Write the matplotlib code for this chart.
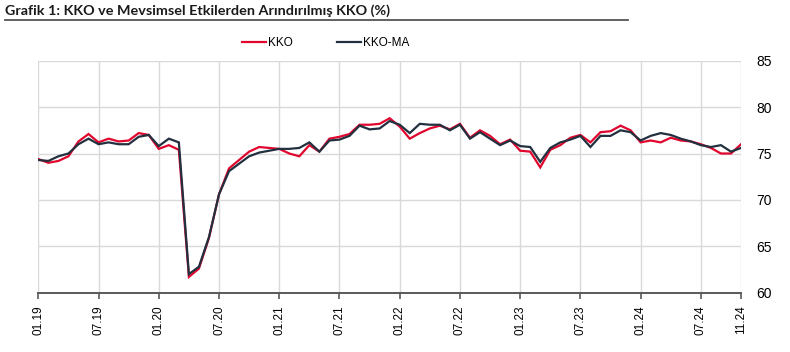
import matplotlib
matplotlib.use("Agg")
import matplotlib.pyplot as plt
from matplotlib.lines import Line2D

# ---- data (monthly, 01.2019 - 11.2024) ----
kko = [74.4, 74.0, 74.2, 74.7, 76.3, 77.1, 76.2, 76.6, 76.3, 76.4, 77.2, 77.0,
       75.5, 75.9, 75.4, 61.7, 62.6, 65.9, 70.6, 73.4, 74.3, 75.2, 75.7, 75.6,
       75.5, 75.0, 74.7, 75.9, 75.2, 76.6, 76.8, 77.1, 78.1, 78.1, 78.2, 78.8,
       77.9, 76.6, 77.2, 77.7, 78.0, 77.6, 78.2, 76.7, 77.5, 76.9, 76.0, 76.5,
       75.3, 75.2, 73.5, 75.4, 75.9, 76.7, 77.0, 76.2, 77.3, 77.4, 78.0, 77.5,
       76.2, 76.4, 76.2, 76.7, 76.4, 76.3, 76.0, 75.6, 75.0, 75.0, 76.0]
kko_ma = [74.3, 74.2, 74.7, 75.0, 76.0, 76.6, 76.0, 76.2, 76.0, 76.0, 76.8, 77.0,
          75.8, 76.6, 76.2, 62.0, 62.8, 66.0, 70.6, 73.1, 73.9, 74.7, 75.1, 75.3,
          75.5, 75.5, 75.6, 76.2, 75.2, 76.4, 76.5, 76.9, 78.0, 77.6, 77.7, 78.5,
          78.1, 77.2, 78.2, 78.1, 78.1, 77.5, 78.1, 76.6, 77.3, 76.6, 75.9, 76.4,
          75.8, 75.7, 74.1, 75.6, 76.2, 76.5, 76.9, 75.7, 76.9, 76.9, 77.5, 77.3,
          76.4, 76.9, 77.2, 77.0, 76.6, 76.3, 75.9, 75.7, 75.9, 75.2, 75.6]
tick_pos = [0, 6, 12, 18, 24, 30, 36, 42, 48, 54, 60, 66, 70]
tick_labels = ["01.19", "07.19", "01.20", "07.20", "01.21", "07.21", "01.22",
               "07.22", "01.23", "07.23", "01.24", "07.24", "11.24"]
series_names = ["KKO", "KKO-MA"]
title = "Grafik 1: KKO ve Mevsimsel Etkilerden Arındırılmış KKO (%)"

RED = "#E0062E"
NAVY = "#22303F"

fig = plt.figure(figsize=(7.9, 3.52), dpi=100)
ax = fig.add_axes([0.0485, 0.1685, 0.8895, 0.659])

x = list(range(len(kko)))
ax.plot(x, kko, color=RED, lw=1.6, solid_joinstyle="miter", zorder=3)
ax.plot(x, kko_ma, color=NAVY, lw=1.6, solid_joinstyle="miter", zorder=4)

ax.set_xlim(0, 70)
ax.set_ylim(60, 85)
ax.set_yticks([60, 65, 70, 75, 80, 85])
ax.set_xticks(tick_pos)
ax.set_xticklabels(tick_labels, rotation=90, fontsize=8.5, family="Liberation Sans")
ax.yaxis.tick_right()
ax.tick_params(axis="y", length=0, pad=11, labelsize=10)
for lab in ax.get_yticklabels():
    lab.set_family("Liberation Sans")
ax.tick_params(axis="x", length=4, width=1.2, color="#595959", pad=5)
ax.grid(True, color="#D9D9D9", lw=1.0)
ax.set_axisbelow(True)
for s in ["top", "left", "right"]:
    ax.spines[s].set_visible(False)
ax.spines["bottom"].set_color("#595959")
ax.spines["bottom"].set_linewidth(1.4)

# title + rule
fig.text(5 / 790, 1 - 11 / 352, title, fontsize=10.4, fontweight="bold",
         family="Lato", va="center", ha="left", color="#1a1a1a")
fig.add_artist(Line2D([5 / 790, 628 / 790], [1 - 20 / 352, 1 - 20 / 352],
                      color="#555555", lw=1.3))

# legend
handles = [Line2D([], [], color=RED, lw=1.6), Line2D([], [], color=NAVY, lw=1.6)]
fig.legend(handles, series_names, loc="center", bbox_to_anchor=(0.412, 1 - 43 / 352),
           ncol=2, frameon=False, handlelength=2.1, handletextpad=0.15,
           columnspacing=3.7, prop={"family": "Liberation Sans", "size": 8.5})

fig.savefig("out.png", dpi=100)
